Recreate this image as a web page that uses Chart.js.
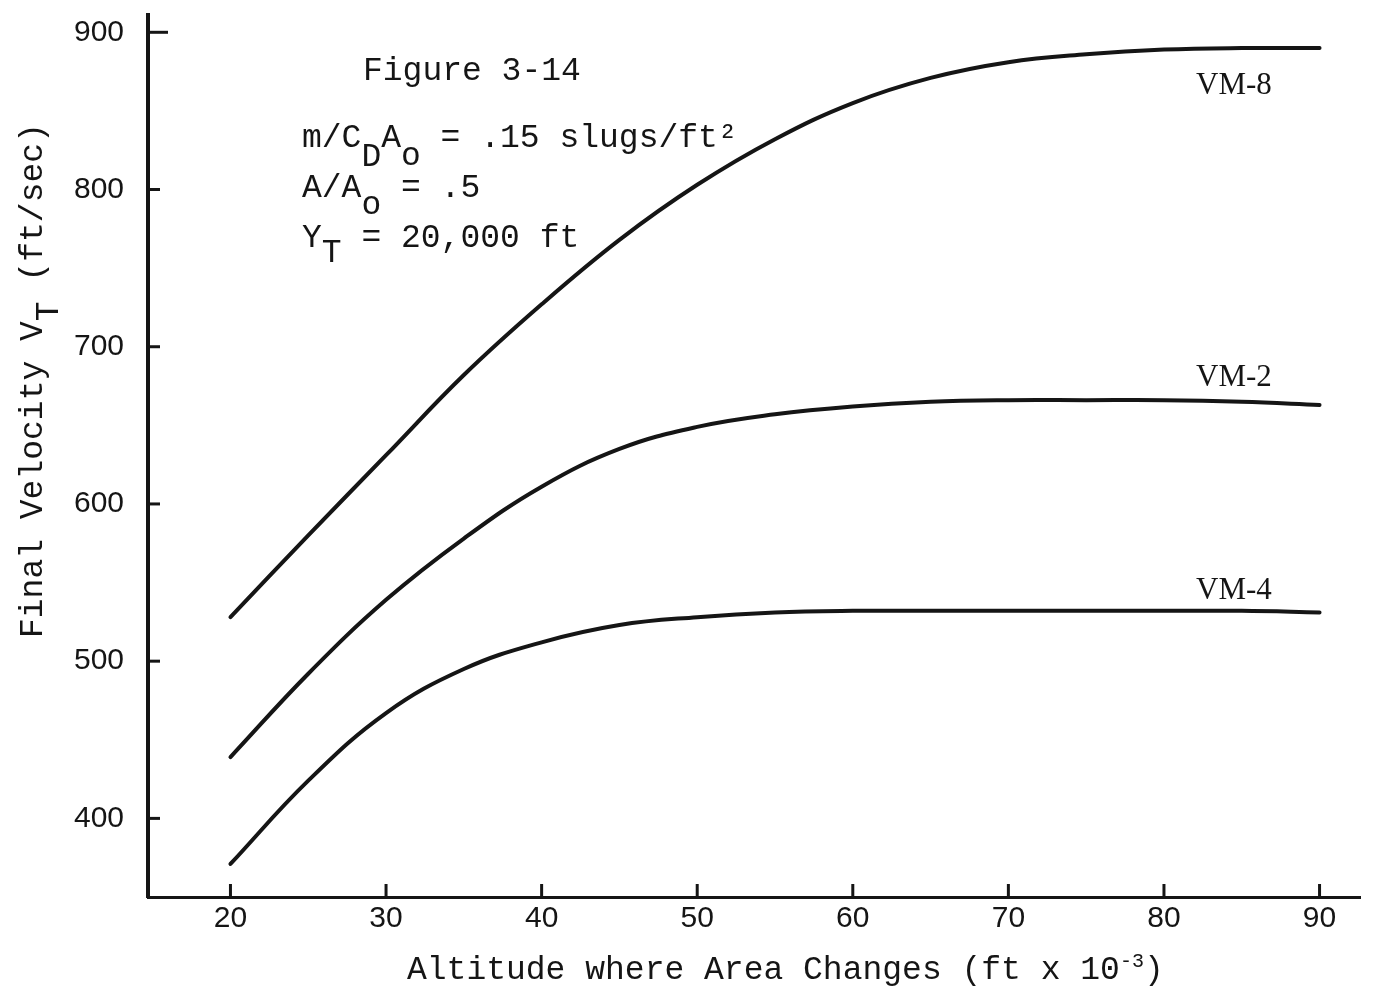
<!DOCTYPE html>
<html>
<head>
<meta charset="utf-8">
<title>Figure 3-14</title>
<script src="https://cdn.jsdelivr.net/npm/chart.js@4.4.0/dist/chart.umd.min.js"></script>
<style>
	html, body { margin:0; padding:0; background:#fff; }
	#wrap { width:1373px; height:995px; }
</style>
</head>
<body>
<div id="wrap"><canvas id="myChart" width="1373" height="995"></canvas></div>
<script>
// altitude where area changes (ft x 10^-3)
var altitude = [20, 25, 30, 35, 40, 45, 50, 55, 60, 65, 70, 75, 80, 85, 90];
// final velocity V_T (ft/sec)
var vm8 = [528, 580, 631, 682, 727, 768, 803, 832, 855, 871, 881, 886, 889, 890, 890];
var vm2 = [439, 492, 539, 578, 611, 635, 649, 657, 662, 665, 666, 666, 666, 665, 663];
var vm4 = [371, 424, 467, 495, 512, 523, 528, 531, 532, 532, 532, 532, 532, 532, 531];

var seriesNames = ['VM-8', 'VM-2', 'VM-4'];
// where the curve names sit, in data units
var nameX = [84.5, 84.5, 84.5];
var nameY = [866, 680, 545];

var xTicks = [20, 30, 40, 50, 60, 70, 80, 90];
var yTicks = [400, 500, 600, 700, 800, 900];

var ink = '#151515';
var mono = '"Liberation Mono", "Courier New", monospace';
var tickFont = { family: '"Liberation Sans", Arial, sans-serif', size: 30 };

function toPoints(ys){
	return altitude.map(function(a, i){ return { x: a, y: ys[i] }; });
}

// draw text pieces one after the other, each with its own y shift and font
function drawParts(ctx, parts, x, y){
	parts.forEach(function(p){
		ctx.font = p[2] || ('33px ' + mono);
		ctx.fillText(p[0], x, y + p[1]);
		x += ctx.measureText(p[0]).width;
	});
}

var figurePlugin = {
	id: 'figureText',
	afterDraw: function(chart){
		var ctx = chart.ctx, xs = chart.scales.x, ys = chart.scales.y;
		var area = chart.chartArea;
		ctx.save();
		ctx.fillStyle = ink;
		ctx.strokeStyle = ink;
		ctx.lineCap = 'butt';

		// tick marks point into the plot
		ctx.lineWidth = 3;
		xTicks.forEach(function(v){
			var px = xs.getPixelForValue(v);
			ctx.beginPath();
			ctx.moveTo(px, area.bottom);
			ctx.lineTo(px, area.bottom - 13);
			ctx.stroke();
		});
		yTicks.forEach(function(v){
			var py = ys.getPixelForValue(v);
			ctx.beginPath();
			ctx.moveTo(area.left, py);
			ctx.lineTo(area.left + (v === 900 ? 20 : 12), py);
			ctx.stroke();
		});

		// curve names
		ctx.font = '31px "Liberation Serif", "Times New Roman", serif';
		ctx.textAlign = 'center';
		ctx.textBaseline = 'middle';
		seriesNames.forEach(function(n, i){
			ctx.fillText(n, xs.getPixelForValue(nameX[i]), ys.getPixelForValue(nameY[i]));
		});

		// figure notes
		ctx.textAlign = 'left';
		ctx.textBaseline = 'alphabetic';
		drawParts(ctx, [['Figure 3-14', 0]], 363, 80);
		drawParts(ctx, [['m/C', 0], ['D', 19], ['A', 0], ['o', 18], [' = .15 slugs/ft', 0], ['\u00b2', 0]], 302, 147);
		drawParts(ctx, [['A/A', 0], ['o', 17], [' = .5', 0]], 302, 197);
		drawParts(ctx, [['Y', 0], ['T', 15], [' = 20,000 ft', 0]], 302, 247);

		// x axis title
		drawParts(ctx, [['Altitude where Area Changes (ft x 10', 0], ['-3', -12, '20px ' + mono], [')', 0]], 407, 979);

		// y axis title, rotated
		ctx.translate(42, 638);
		ctx.rotate(-Math.PI / 2);
		drawParts(ctx, [['Final Velocity V', 0], ['T', 16], [' (ft/sec)', 0]], 0, 0);
		ctx.restore();
	}
};

function curve(ys){
	return {
		data: toPoints(ys),
		borderColor: ink,
		borderWidth: 4,
		borderCapStyle: 'round',
		tension: 0.4,
		pointRadius: 0,
		fill: false
	};
}

new Chart('myChart', {
	type: 'line',
	data: { datasets: [curve(vm8), curve(vm2), curve(vm4)] },
	options: {
		responsive: false,
		animation: false,
		layout: { padding: { left: 0, right: 13, top: 15, bottom: 0 } },
		plugins: { legend: { display: false }, tooltip: { enabled: false } },
		scales: {
			x: {
				type: 'linear',
				min: 14.7,
				max: 92.6,
				afterBuildTicks: function(s){ s.ticks = xTicks.map(function(v){ return { value: v }; }); },
				afterFit: function(s){ s.height = 98; s.paddingLeft = 0; s.paddingRight = 0; },
				grid: { display: false, drawTicks: false },
				border: { display: true, width: 3, color: ink },
				ticks: { padding: 4, font: tickFont, color: ink, maxRotation: 0 }
			},
			y: {
				type: 'linear',
				min: 350,
				max: 911,
				afterBuildTicks: function(s){ s.ticks = yTicks.map(function(v){ return { value: v }; }); },
				afterFit: function(s){ s.width = 148; s.paddingTop = 0; s.paddingBottom = 0; },
				grid: { display: false, drawTicks: false },
				border: { display: true, width: 4, color: ink },
				ticks: { padding: 24, font: tickFont, color: ink }
			}
		}
	},
	plugins: [figurePlugin]
});
</script>
</body>
</html>
